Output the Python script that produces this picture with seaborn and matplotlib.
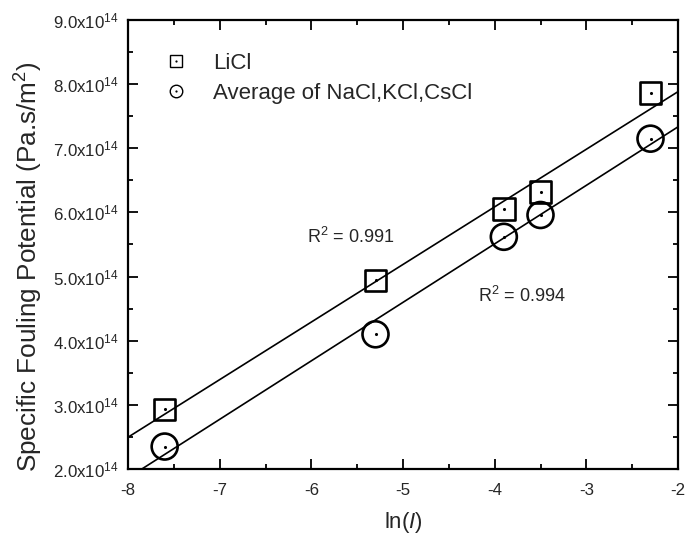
import numpy as np
import pandas as pd
import matplotlib
matplotlib.use("Agg")
import matplotlib.pyplot as plt
from matplotlib.lines import Line2D
from matplotlib.ticker import MultipleLocator, FuncFormatter
import seaborn as sns

# ln of salt concentration
ln_conc = [-7.6, -5.3, -3.9, -3.5, -2.3]
# specific fouling potential (Pa.s/m^2)
sfp_licl = [2.93e14, 4.94e14, 6.05e14, 6.32e14, 7.86e14]
sfp_avg = [2.35e14, 4.10e14, 5.62e14, 5.96e14, 7.15e14]
series_names = ["LiCl", "Average of NaCl,KCl,CsCl"]
r2_labels = ["R$^2$ = 0.991", "R$^2$ = 0.994"]
x_ticks = [-8, -7, -6, -5, -4, -3, -2]
y_ticks = [2e14, 3e14, 4e14, 5e14, 6e14, 7e14, 8e14, 9e14]

sns.set_style("ticks")
plt.rcParams["font.family"] = ["Liberation Sans", "DejaVu Sans"]
plt.rcParams["mathtext.fontset"] = "custom"
plt.rcParams["mathtext.rm"] = "Liberation Sans"
plt.rcParams["mathtext.it"] = "Liberation Sans:italic"
plt.rcParams["mathtext.default"] = "regular"
plt.rcParams["axes.unicode_minus"] = False

df = pd.DataFrame({"x": ln_conc * 2,
                   "y": sfp_licl + sfp_avg,
                   "salt": [series_names[0]] * 5 + [series_names[1]] * 5})

fig = plt.figure(figsize=(6.85, 5.35), dpi=100)
ax = fig.add_axes([128 / 685, 66 / 535, 550 / 685, 449 / 535])
ax.set_xlim(x_ticks[0], x_ticks[-1])
ax.set_ylim(y_ticks[0], y_ticks[-1])

# linear fits across the full x range
for ys in (sfp_licl, sfp_avg):
    sns.regplot(x=ln_conc, y=ys, ax=ax, scatter=False, ci=None, truncate=False,
                line_kws=dict(color="black", lw=1.2))

# hollow markers with centre dots
sns.scatterplot(data=df, x="x", y="y", style="salt", markers={series_names[0]: "s", series_names[1]: "o"},
                size="salt", sizes={series_names[0]: 240, series_names[1]: 350},
                facecolor="none", edgecolor="black", linewidth=1.9, ax=ax, legend=False, zorder=3)
sns.scatterplot(x=ln_conc * 2, y=sfp_licl + sfp_avg, color="black", s=5, linewidth=0,
                ax=ax, legend=False, zorder=4)

ax.text(-6.05, 5.52e14, r2_labels[0], fontsize=13, ha="left", va="baseline")
ax.text(-4.18, 4.60e14, r2_labels[1], fontsize=13, ha="left", va="baseline")

ax.xaxis.set_major_locator(MultipleLocator(1))
ax.xaxis.set_minor_locator(MultipleLocator(0.5))
ax.set_yticks(y_ticks)
ax.yaxis.set_minor_locator(MultipleLocator(0.5e14))
ax.yaxis.set_major_formatter(FuncFormatter(lambda v, p: f"{v / 1e14:.1f}x10$^{{14}}$"))
ax.tick_params(which="both", direction="in", top=True, right=True, width=1.3, color="black")
ax.tick_params(which="major", length=7, labelsize=12.2)
ax.tick_params(axis="x", which="major", pad=10)
ax.tick_params(axis="y", which="major", pad=7)
ax.tick_params(which="minor", length=3.5)
for sp in ax.spines.values():
    sp.set_linewidth(1.6)
    sp.set_color("black")

ax.set_xlabel(r"ln($\mathit{I}$)", fontsize=16, labelpad=9)
ax.set_ylabel("Specific Fouling Potential (Pa.s/m$^2$)", fontsize=18.8)
ax.yaxis.set_label_coords(-0.15, 0.45)

handles = [
    (Line2D([], [], ls="none", marker="s", ms=8, mfc="none", mec="black", mew=1.0),
     Line2D([], [], ls="none", marker="o", ms=1.6, mfc="black", mec="black", mew=0)),
    (Line2D([], [], ls="none", marker="o", ms=9, mfc="none", mec="black", mew=1.0),
     Line2D([], [], ls="none", marker="o", ms=1.6, mfc="black", mec="black", mew=0)),
]
ax.legend(handles, series_names, loc="upper left", bbox_to_anchor=(0.067, 0.926),
          frameon=False, fontsize=16, borderpad=0, borderaxespad=0,
          handlelength=1.0, handletextpad=1.18, labelspacing=0.38)

fig.savefig("out.png", dpi=100)
